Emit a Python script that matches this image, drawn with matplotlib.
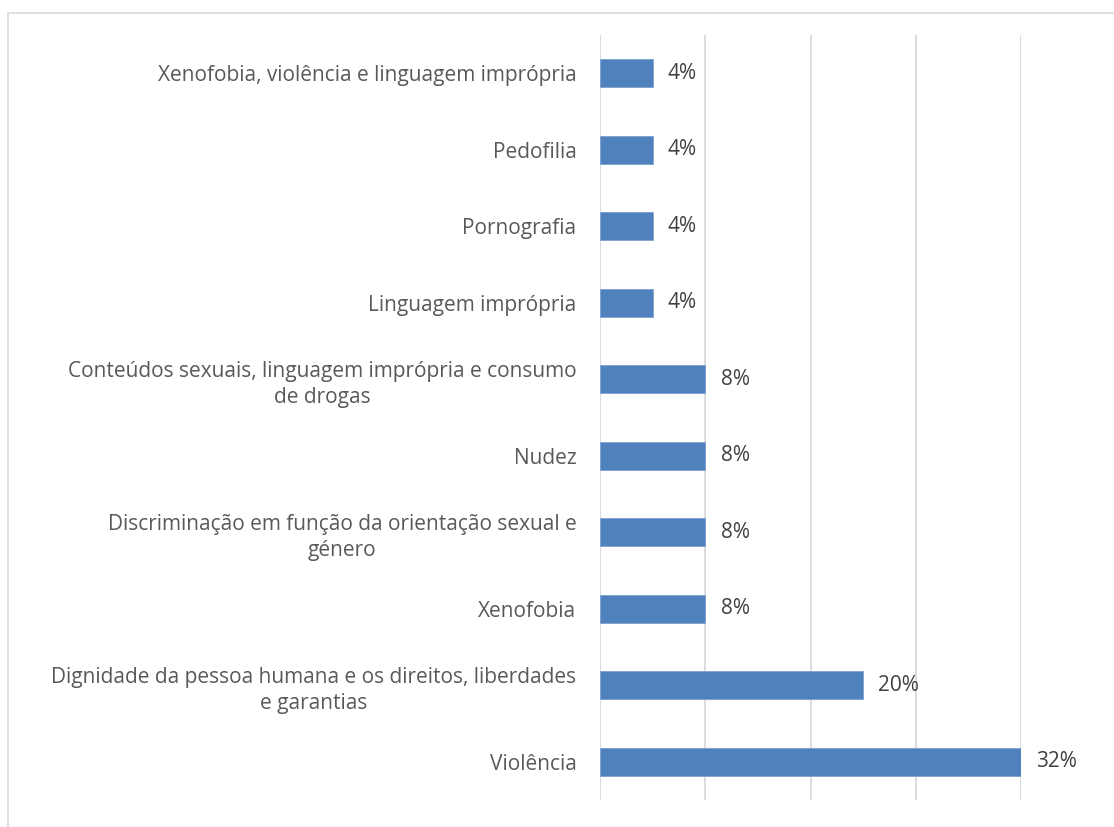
import matplotlib.pyplot as plt
from matplotlib.patches import Rectangle

# categories from top to bottom
categories = [
    'Xenofobia, violência e linguagem imprópria',
    'Pedofilia',
    'Pornografia',
    'Linguagem imprópria',
    'Conteúdos sexuais, linguagem imprópria e consumo\nde drogas',
    'Nudez',
    'Discriminação em função da orientação sexual e\ngénero',
    'Xenofobia',
    'Dignidade da pessoa humana e os direitos, liberdades\ne garantias',
    'Violência',
]
values = [4, 4, 4, 4, 8, 8, 8, 8, 20, 32]
xticks = [0, 8, 16, 24, 32]

plt.rcParams['font.family'] = ['Open Sans', 'DejaVu Sans']
txt_color = '#595959'

fig = plt.figure(figsize=(11.14, 8.27), dpi=100)
ax = fig.add_axes([600 / 1114, 1 - 800 / 827, 421 / 1114, 765 / 827])

# outer chart frame (cut at right and bottom)
fig.patches.append(Rectangle((8 / 1114, -0.05), 1.1, 1 - 13 / 827 + 0.05,
                             transform=fig.transFigure, fill=False,
                             edgecolor='#d9d9d9', linewidth=1.2))

y = list(range(len(categories)))
bars = ax.barh(y, values, height=0.37, color='#4f81bd', edgecolor='#7fa2d0', linewidth=0.6, zorder=3)
ax.set_ylim(len(categories) - 0.5, -0.5)
ax.set_xlim(0, 32)
ax.set_xticks(xticks)
ax.xaxis.grid(True, color='#d9d9d9', linewidth=1.3, zorder=0)
ax.tick_params(axis='x', length=0, labelbottom=False)
ax.set_yticks(y)
ax.set_yticklabels(categories, multialignment='center', fontsize=15, color=txt_color, linespacing=1.35)
ax.tick_params(axis='y', length=0, pad=17)
for s in ax.spines.values():
    s.set_visible(False)

ax.bar_label(bars, labels=[f'{v}%' for v in values], padding=11, fontsize=15, color='#404040')

fig.savefig('out.png', dpi=100)
